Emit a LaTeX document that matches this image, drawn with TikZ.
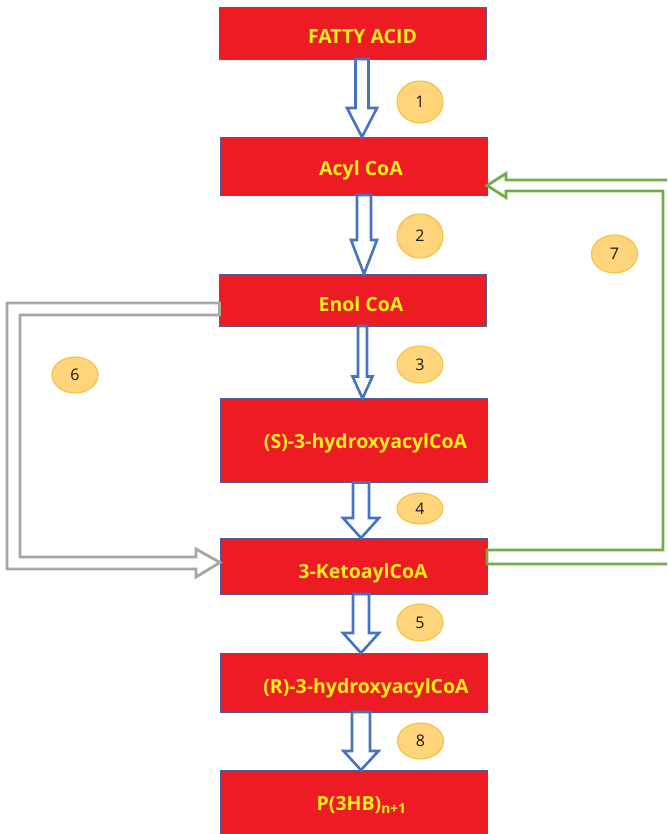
\documentclass[tikz,border=0pt]{standalone}
\usepackage{fontspec}
\setmainfont{Open Sans}
\usetikzlibrary{shapes.geometric,calc}

\definecolor{boxred}{HTML}{ED1C24}
\definecolor{boxedge}{HTML}{4A5E9E}
\definecolor{txtyellow}{HTML}{FFEE1A}
\definecolor{flowblue}{HTML}{4472C4}
\definecolor{loopgray}{HTML}{A6A6A6}
\definecolor{loopgreen}{HTML}{70AD47}
\definecolor{badgefill}{HTML}{FFD47A}
\definecolor{badgeedge}{HTML}{F4C447}

\tikzset{
  stagebox/.style={rectangle, draw=boxedge, line width=0.8pt, fill=boxred,
    minimum width=267, minimum height=#1, inner sep=0, outer sep=0},
  stagelabel/.style={anchor=base, inner sep=0, text=txtyellow,
    font=\bfseries\fontsize{19.5}{21}\selectfont},
  badge/.style={ellipse, draw=badgeedge, line width=1.2pt, fill=badgefill,
    minimum width=46, minimum height=#1, inner sep=0,
    font=\fontsize{16}{18}\selectfont, text=black!90},
  flow/.style={draw=flowblue, line width=2.6pt, fill=white, line join=miter},
  grayloop/.style={draw=loopgray, line width=2.8pt, fill=white, line join=miter},
  greenloop/.style={draw=loopgreen, line width=2.8pt, fill=white, line join=miter},
}

% hollow block arrow from node #1 down to node #2:
% axis x #3, shaft half-width #4, head half-width #5, head length #6
\newcommand\blockdown[6]{%
  \draw[flow] let \p1=(#1.south), \p2=(#2.north) in
    (#3pt-#4pt,\y1) -- (#3pt-#4pt,\y2+#6pt) -- (#3pt-#5pt,\y2+#6pt) --
    (#3pt,\y2) -- (#3pt+#5pt,\y2+#6pt) -- (#3pt+#4pt,\y2+#6pt) --
    (#3pt+#4pt,\y1) -- cycle;}

\begin{document}
\begin{tikzpicture}[x=1pt,y=1pt]
\useasboundingbox (0,0) rectangle (667,-834);
\clip (0,0) rectangle (667,-834);

% pathway stages
\node[stagebox=52] (fa) at (352.5,-33) {};
\node[stagebox=58] (ac) at (353.5,-166) {};
\node[stagebox=52] (en) at (353,-300) {};
\node[stagebox=84] (sh) at (353.5,-440.5) {};
\node[stagebox=56] (ke) at (353.5,-566) {};
\node[stagebox=59] (rh) at (353.5,-682.5) {};
\node[stagebox=72] (pb) at (353.5,-806) {};

\node[stagelabel] (tfa) at (362.5,-44) {FATTY ACID};
\node[stagelabel] (tac) at (361,-176) {Acyl CoA};
\node[stagelabel] (ten) at (361,-311) {Enol CoA};
\node[stagelabel] (tsh) at (365.5,-448) {(S)-3-hydroxyacylCoA};
\node[stagelabel] (tke) at (363,-578) {3-KetoaylCoA};
\node[stagelabel] (trh) at (366,-693) {(R)-3-hydroxyacylCoA};
\node[stagelabel] (tpb) at (361.5,-810) {P(3HB)\textsubscript{n+1}};

% main flow
\blockdown{fa}{ac}{362}{6.5}{15}{29}
\blockdown{ac}{en}{364}{7}{13}{34}
\blockdown{en}{sh}{362.5}{4.5}{10}{22}
\blockdown{sh}{ke}{361}{8}{18}{20}
\blockdown{ke}{rh}{361}{8}{18}{20}
\blockdown{rh}{pb}{361}{9}{17.5}{19}

% bypass from Enol CoA to 3-KetoaylCoA
\draw[grayloop] ([yshift=-3]en.west) -- (7,-303) -- (7,-569) -- (196,-569)
  -- (196,-577) -- ([yshift=3.5]ke.west) -- (196,-549) -- (196,-557)
  -- (20,-557) -- (20,-315) -- ([yshift=-15]en.west) -- cycle;

% return loop from 3-KetoaylCoA to Acyl CoA
\draw[greenloop] ([yshift=16]ke.east) -- (663,-550) -- (663,-191) -- (506,-191)
  -- (506,-197.5) -- ([yshift=-19.5]ac.east) -- (506,-173.5) -- (506,-180)
  -- (675,-180) -- (675,-564) -- ([yshift=2]ke.east) -- cycle;

% step numbers
\node[badge=42] (b1) at (420,-102) {1};
\node[badge=44] (b2) at (420,-236) {2};
\node[badge=37] (b3) at (420,-364.5) {3};
\node[badge=31] (b4) at (420,-508.5) {4};
\node[badge=37] (b5) at (420,-622.5) {5};
\node[badge=36] (b6) at (75,-375) {6};
\node[badge=38] (b7) at (614.5,-254) {7};
\node[badge=36] (b8) at (420.5,-741) {8};
\end{tikzpicture}
\end{document}
